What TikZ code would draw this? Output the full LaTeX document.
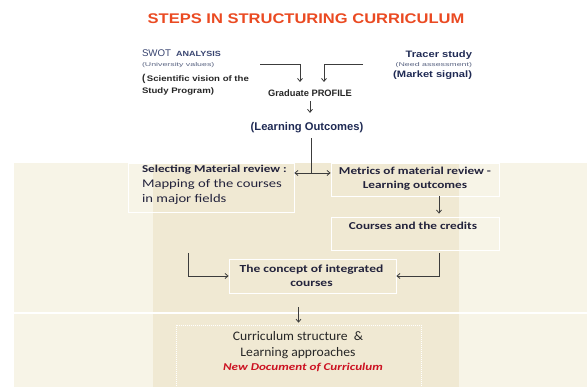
\documentclass[tikz,border=0pt]{standalone}
\usepackage{fontspec}
\usepackage{graphicx}
\setmainfont{Liberation Sans}
\newfontfamily\arialS[FakeStretch=1.2]{Liberation Sans}
\newfontfamily\titlef[FakeStretch=1.18]{Liberation Sans}
\newfontfamily\calS[FakeStretch=1.25]{Carlito}
\newfontfamily\calN[FakeStretch=1.05]{Carlito}
\usetikzlibrary{arrows.meta,calc}
\definecolor{titlered}{RGB}{234,74,34}
\definecolor{bglight}{RGB}{247,244,231}
\definecolor{bgdark}{RGB}{240,233,211}
\definecolor{navy}{RGB}{31,42,84}
\definecolor{slate}{RGB}{56,68,112}
\definecolor{greyblue}{RGB}{90,100,130}
\definecolor{boxtext}{RGB}{35,35,60}
\definecolor{arrgrey}{RGB}{60,60,60}
\definecolor{docred}{RGB}{204,18,34}
\newcommand{\fs}[1]{\fontsize{#1}{#1}\selectfont}
\begin{document}
\begin{tikzpicture}[x=1pt,y=-1pt,
  lbl/.style={inner sep=0pt, outer sep=0pt},
  boxnode/.style={draw=white, line width=0.8pt, inner sep=0pt},
  arr/.style={draw=arrgrey, line width=0.8pt, -{Straight Barb[length=3pt,width=5pt]}},
  arrtwo/.style={draw=arrgrey, line width=0.8pt, {Straight Barb[length=3pt,width=5pt]}-{Straight Barb[length=3pt,width=5pt]}},
  plainline/.style={draw=arrgrey, line width=0.8pt},
  boldbox/.style={lbl, text=boxtext, font=\calS\bfseries\fs{10.6}},
]
\useasboundingbox (0,0) rectangle (587,387);
\clip (0,0) rectangle (587,387);
% background
\fill[bglight] (14,163) rectangle (587,387);
\fill[bgdark] (153,163) rectangle (459,387);
\draw[white, line width=2pt] (14,313) -- (587,313);

% title
\node[lbl, text=titlered, font=\titlef\bfseries\fs{14}] (title) at (306,19) {STEPS IN STRUCTURING CURRICULUM};

% top labels
\node[lbl, anchor=base west, text=slate] (swot) at (142,57) {\fs{9.7}SWOT\hspace{5pt}{\arialS\bfseries\fs{7.5}ANALYSIS}};
\node[lbl, anchor=base west, text=greyblue] (univ) at (142,66.5) {\scalebox{1.6}[1]{\fs{5.5}(University values)}};
\node[lbl, anchor=base west, text=black!85] (sci) at (142,81.7) {{\bfseries\fs{10}(}\,{\arialS\bfseries\fs{8}Scientific vision of the}};
\node[lbl, anchor=base west, text=black!85] (study) at (142,94) {\arialS\bfseries\fs{8}Study Program)};
\node[lbl, anchor=base east, text=navy] (tracer) at (472,57.3) {\arialS\bfseries\fs{9.3}Tracer study};
\node[lbl, anchor=base east, text=greyblue] (need) at (472,67) {\scalebox{1.6}[1]{\fs{5.5}(Need assessment)}};
\node[lbl, anchor=base east, text=navy] (market) at (472,77.5) {\arialS\bfseries\fs{9.3}(Market signal)};
\node[lbl, anchor=base, text=black!85] (grad) at (310,97) {\bfseries\fs{9.3}Graduate PROFILE};
\node[lbl, anchor=base, text=navy] (lo) at (307,131) {\bfseries\fs{11.2}(Learning Outcomes)};

% top connectors
\coordinate (lstart) at (260,64);
\coordinate (lend) at (300,82);
\coordinate (rstart) at (363,64);
\coordinate (rend) at (324,82);
\draw[arr] (lstart) -| (lend);
\draw[arr] (rstart) -| (rend);
\draw[arr, shorten <=4pt, shorten >=10pt] (grad.south) -- (grad.south |- lo.north);

% boxes
\node[boxnode, minimum width=166pt, minimum height=49pt] (selbox) at (211,187.5) {};
\node[boxnode, minimum width=168pt, minimum height=33pt] (metbox) at (415,179.5) {};
\node[boxnode, minimum width=168pt, minimum height=33pt] (crbox) at (415,233.5) {};
\node[boxnode, minimum width=167pt, minimum height=34pt] (conbox) at (312.5,276) {};
\node[boxnode, line width=0.6pt, dash pattern=on 1pt off 1pt, minimum width=245pt, minimum height=68pt] (curbox) at (298.5,359) {};

% box texts
\node[lbl, anchor=base west, text=boxtext, font=\calS\bfseries\fs{10.5}] (sel1) at (142,173) {Selecting Material review :};
\node[lbl, anchor=base west, text=boxtext, font=\calS\fs{11.7}] (sel2) at (142,188) {Mapping of the courses};
\node[lbl, anchor=base west, text=boxtext, font=\calS\fs{11.7}] (sel3) at (142,203) {in major fields};
\node[boldbox, anchor=base] (met1) at (415,175) {Metrics of material review -};
\node[boldbox, anchor=base] (met2) at (415,189) {Learning outcomes};
\node[boldbox, anchor=base] (cr1) at (413,230) {Courses and the credits};
\node[boldbox, anchor=base, font=\calS\bfseries\fs{10.8}] (con1) at (311.5,273) {The concept of integrated};
\node[boldbox, anchor=base, font=\calS\bfseries\fs{10.8}] (con2) at (311.5,287) {courses};
\node[lbl, anchor=base, text=black!85, font=\calN\fs{13}] (cur1) at (298,341) {Curriculum structure\hspace{6pt}\&};
\node[lbl, anchor=base, text=black!85, font=\calN\fs{13}] (cur2) at (298,357) {Learning approaches};
\node[lbl, anchor=base, text=docred, font=\calS\bfseries\itshape\fs{10.5}] (cur3) at (303,371) {New Document of Curriculum};

% connectors in the lower part
\coordinate (jn) at (311,173);
\draw[plainline, shorten <=5pt] (lo.south -| jn) -- (jn);
\draw[arrtwo] (selbox.east |- jn) -- (metbox.west |- jn);
\draw[arr, shorten >=3pt] ([xshift=24pt]metbox.south) -- ([xshift=24pt]crbox.north);
\coordinate (lc) at (188,253);
\draw[arr] (lc) |- (conbox.west);
\draw[arr, shorten <=3pt] ([xshift=24pt]crbox.south) |- (conbox.east);
\draw[arr, shorten <=14pt, shorten >=2pt] (curbox.north |- conbox.south) -- (curbox.north);
\end{tikzpicture}
\end{document}
